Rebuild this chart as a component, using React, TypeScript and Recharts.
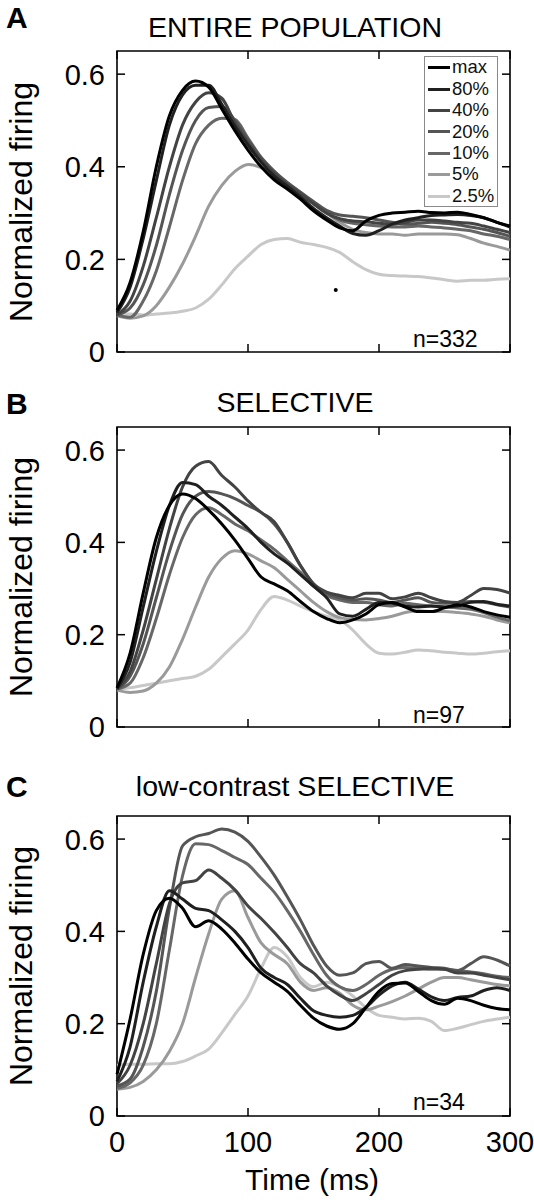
import React from "react"
import { LineChart, Line, XAxis, YAxis, ReferenceArea, ReferenceDot, Legend } from "recharts"

// time axis (ms) and contrast levels
const TIME_MS = [0, 10, 20, 30, 40, 50, 60, 70, 80, 90, 100, 110, 120, 130, 140, 150, 160, 170, 180, 190, 200, 210, 220, 230, 240, 250, 260, 270, 280, 290, 300]
const LEVELS = ["max", "80%", "40%", "20%", "10%", "5%", "2.5%"]
const LEVEL_COLORS = ["#000000", "#202020", "#434343", "#555555", "#676767", "#9a9a9a", "#c8c8c8"]
const X_TICKS = [0, 100, 200, 300]
const Y_TICKS = [0, 0.2, 0.4, 0.6]

// A: entire population
const A_MAX = [0.09, 0.15, 0.26, 0.4, 0.51, 0.565, 0.585, 0.572, 0.525, 0.478, 0.436, 0.4, 0.372, 0.352, 0.33, 0.305, 0.285, 0.268, 0.262, 0.283, 0.295, 0.3, 0.302, 0.304, 0.301, 0.3, 0.302, 0.297, 0.29, 0.28, 0.272]
const A_80 = [0.085, 0.14, 0.245, 0.37, 0.49, 0.555, 0.576, 0.576, 0.535, 0.488, 0.447, 0.41, 0.38, 0.358, 0.335, 0.31, 0.29, 0.272, 0.256, 0.252, 0.262, 0.276, 0.285, 0.29, 0.295, 0.296, 0.297, 0.295, 0.29, 0.28, 0.27]
const A_40 = [0.08, 0.11, 0.185, 0.29, 0.4, 0.49, 0.54, 0.56, 0.548, 0.495, 0.452, 0.415, 0.386, 0.362, 0.342, 0.32, 0.3, 0.288, 0.283, 0.281, 0.278, 0.276, 0.28, 0.285, 0.285, 0.283, 0.28, 0.278, 0.272, 0.265, 0.258]
const A_20 = [0.08, 0.095, 0.145, 0.23, 0.34, 0.435, 0.5, 0.528, 0.53, 0.5, 0.458, 0.42, 0.39, 0.366, 0.345, 0.325, 0.306, 0.296, 0.293, 0.29, 0.285, 0.28, 0.276, 0.278, 0.28, 0.278, 0.275, 0.27, 0.265, 0.258, 0.25]
const A_10 = [0.08, 0.075, 0.11, 0.175, 0.27, 0.37, 0.45, 0.49, 0.505, 0.502, 0.462, 0.42, 0.39, 0.365, 0.345, 0.322, 0.3, 0.285, 0.278, 0.275, 0.272, 0.27, 0.27, 0.272, 0.27, 0.268, 0.265, 0.262, 0.255, 0.25, 0.243]
const A_5 = [0.078, 0.073, 0.078, 0.1, 0.14, 0.19, 0.25, 0.315, 0.36, 0.39, 0.405, 0.398, 0.38, 0.36, 0.34, 0.32, 0.3, 0.28, 0.265, 0.258, 0.255, 0.255, 0.252, 0.255, 0.255, 0.255, 0.253, 0.245, 0.235, 0.228, 0.22]
const A_2_5 = [0.082, 0.082, 0.08, 0.082, 0.084, 0.088, 0.095, 0.114, 0.145, 0.18, 0.207, 0.232, 0.243, 0.245, 0.237, 0.232, 0.226, 0.215, 0.195, 0.178, 0.168, 0.165, 0.164, 0.163, 0.16, 0.156, 0.153, 0.155, 0.155, 0.157, 0.158]
const A_DOT = { t: 167, v: 0.134 }

// B: selective
const B_MAX = [0.085, 0.16, 0.29, 0.41, 0.48, 0.505, 0.495, 0.47, 0.44, 0.405, 0.365, 0.325, 0.31, 0.295, 0.272, 0.25, 0.235, 0.226, 0.232, 0.245, 0.265, 0.27, 0.26, 0.25, 0.25, 0.258, 0.265, 0.26, 0.25, 0.243, 0.238]
const B_80 = [0.083, 0.14, 0.26, 0.38, 0.48, 0.53, 0.525, 0.5, 0.48, 0.455, 0.43, 0.4, 0.375, 0.355, 0.33, 0.305, 0.28, 0.245, 0.24, 0.255, 0.27, 0.268, 0.262, 0.26, 0.262, 0.26, 0.262, 0.27, 0.272, 0.266, 0.262]
const B_40 = [0.083, 0.12, 0.21, 0.32, 0.43, 0.52, 0.565, 0.575, 0.545, 0.52, 0.49, 0.465, 0.445, 0.4, 0.35, 0.31, 0.292, 0.285, 0.28, 0.29, 0.29, 0.278, 0.282, 0.29, 0.28, 0.272, 0.27, 0.285, 0.3, 0.298, 0.29]
const B_20 = [0.082, 0.11, 0.18, 0.28, 0.38, 0.46, 0.5, 0.51, 0.505, 0.495, 0.48, 0.465, 0.44, 0.4, 0.35, 0.31, 0.29, 0.28, 0.275, 0.278, 0.275, 0.27, 0.275, 0.28, 0.27, 0.268, 0.27, 0.272, 0.27, 0.265, 0.26]
const B_10 = [0.082, 0.095, 0.15, 0.235, 0.33, 0.41, 0.46, 0.475, 0.46, 0.44, 0.425, 0.405, 0.385, 0.36, 0.335, 0.305, 0.285, 0.275, 0.27, 0.27, 0.265, 0.262, 0.268, 0.265, 0.262, 0.26, 0.258, 0.255, 0.248, 0.238, 0.23]
const B_5 = [0.08, 0.075, 0.078, 0.095, 0.13, 0.19, 0.26, 0.325, 0.365, 0.382, 0.375, 0.36, 0.345, 0.32, 0.295, 0.27, 0.25, 0.237, 0.233, 0.232, 0.235, 0.24, 0.248, 0.252, 0.25, 0.25, 0.248, 0.245, 0.24, 0.232, 0.226]
const B_2_5 = [0.082, 0.085, 0.09, 0.095, 0.1, 0.105, 0.11, 0.125, 0.152, 0.18, 0.21, 0.255, 0.283, 0.275, 0.262, 0.25, 0.24, 0.232, 0.21, 0.18, 0.16, 0.158, 0.162, 0.167, 0.165, 0.162, 0.16, 0.158, 0.16, 0.163, 0.165]

// C: low-contrast selective
const C_MAX = [0.09, 0.21, 0.35, 0.445, 0.472, 0.45, 0.41, 0.423, 0.405, 0.375, 0.34, 0.31, 0.29, 0.27, 0.24, 0.212, 0.195, 0.188, 0.2, 0.235, 0.27, 0.287, 0.288, 0.27, 0.25, 0.242, 0.255, 0.25, 0.24, 0.233, 0.23]
const C_80 = [0.075, 0.15, 0.29, 0.41, 0.488, 0.47, 0.45, 0.445, 0.425, 0.4, 0.365, 0.32, 0.3, 0.285, 0.255, 0.228, 0.218, 0.214, 0.218, 0.235, 0.262, 0.282, 0.29, 0.275, 0.258, 0.25, 0.257, 0.26, 0.272, 0.278, 0.272]
const C_40 = [0.07, 0.11, 0.2, 0.33, 0.46, 0.505, 0.51, 0.533, 0.515, 0.49, 0.455, 0.428, 0.398, 0.365, 0.33, 0.31, 0.282, 0.262, 0.25, 0.265, 0.285, 0.305, 0.315, 0.318, 0.32, 0.318, 0.31, 0.31, 0.305, 0.3, 0.295]
const C_20 = [0.065, 0.08, 0.15, 0.27, 0.45, 0.585, 0.605, 0.612, 0.622, 0.615, 0.595, 0.561, 0.522, 0.475, 0.425, 0.37, 0.325, 0.305, 0.31, 0.33, 0.335, 0.32, 0.328, 0.325, 0.322, 0.32, 0.315, 0.33, 0.345, 0.338, 0.325]
const C_10 = [0.06, 0.072, 0.11, 0.2, 0.36, 0.52, 0.59, 0.588, 0.575, 0.56, 0.545, 0.515, 0.485, 0.445, 0.4, 0.35, 0.305, 0.28, 0.272, 0.285, 0.305, 0.318, 0.322, 0.32, 0.318, 0.318, 0.315, 0.312, 0.308, 0.303, 0.3]
const C_5 = [0.058, 0.062, 0.075, 0.1, 0.14, 0.2, 0.3, 0.395, 0.47, 0.488, 0.43, 0.375, 0.35, 0.33, 0.29, 0.272, 0.278, 0.266, 0.24, 0.23, 0.238, 0.248, 0.26, 0.275, 0.29, 0.3, 0.3, 0.295, 0.29, 0.285, 0.282]
const C_2_5 = [0.11, 0.112, 0.112, 0.113, 0.113, 0.118, 0.13, 0.145, 0.18, 0.22, 0.26, 0.32, 0.365, 0.345, 0.3, 0.28, 0.29, 0.28, 0.26, 0.235, 0.218, 0.214, 0.21, 0.212, 0.205, 0.185, 0.19, 0.198, 0.205, 0.21, 0.214]

const FONT = '"Liberation Sans", Arial, Helvetica, sans-serif'
const CHART_W = 534
const Y_AXIS_W = 100
const PLOT_LEFT = 117
const PLOT_RIGHT = 510
const TICK_LEN = 8

type Row = Record<string, number>

function toRows(series: number[][]): Row[] {
  return TIME_MS.map((t, i) => {
    const row: Row = { t }
    LEVELS.forEach((lvl, k) => {
      row[lvl] = series[k][i]
    })
    return row
  })
}

const renderLegend = (props: any) => {
  const items = [...(props.payload || [])].sort((a: any, b: any) => LEVELS.indexOf(a.value) - LEVELS.indexOf(b.value))
  return (
    <div style={{ border: "1px solid #8a8a8a", background: "#fff", width: 74, height: 151, boxSizing: "border-box", padding: "0 0 0 3px" }}>
      {items.map((it: any) => (
        <div key={it.value} style={{ display: "flex", alignItems: "center", height: 21.4 }}>
          <span style={{ display: "inline-block", width: 22, height: 3, background: it.color, marginRight: 2 }} />
          <span style={{ fontSize: 18.5, fontFamily: FONT, color: "#111", lineHeight: 1 }}>{it.value}</span>
        </div>
      ))}
    </div>
  )
}

type PanelProps = {
  rows: Row[]
  top: number
  height: number
  marginTop: number
  xAxisHeight: number
  showXLabels: boolean
  withLegend?: boolean
  dot?: { t: number; v: number }
}

function Panel({ rows, top, height, marginTop, xAxisHeight, showXLabels, withLegend, dot }: PanelProps) {
  const plotTop = marginTop
  const plotBottom = height - xAxisHeight

  const xTick = (props: any) => {
    const { x, payload } = props
    return (
      <g>
        <line x1={x} x2={x} y1={plotBottom} y2={plotBottom - TICK_LEN} stroke="#000" strokeWidth={1.5} />
        <line x1={x} x2={x} y1={plotTop} y2={plotTop + TICK_LEN} stroke="#000" strokeWidth={1.5} />
        {showXLabels && (
          <text x={x} y={plotBottom + 26} dy="0.36em" textAnchor="middle" fontSize={29} fontFamily={FONT} fill="#000">
            {payload.value}
          </text>
        )}
      </g>
    )
  }

  const yTick = (props: any) => {
    const { y, payload } = props
    return (
      <g>
        <line x1={PLOT_LEFT} x2={PLOT_LEFT + TICK_LEN} y1={y} y2={y} stroke="#000" strokeWidth={1.5} />
        <line x1={PLOT_RIGHT - TICK_LEN} x2={PLOT_RIGHT} y1={y} y2={y} stroke="#000" strokeWidth={1.5} />
        <text x={PLOT_LEFT - 12} y={y} dy="0.36em" textAnchor="end" fontSize={29} fontFamily={FONT} fill="#000">
          {String(payload.value)}
        </text>
      </g>
    )
  }

  const drawOrder = LEVELS.map((lvl, k) => ({ lvl, color: LEVEL_COLORS[k] })).reverse()

  return (
    <div style={{ position: "absolute", left: 0, top }}>
      <LineChart
        width={CHART_W}
        height={height}
        data={rows}
        margin={{ top: marginTop, right: CHART_W - PLOT_RIGHT, bottom: 0, left: PLOT_LEFT - Y_AXIS_W }}
      >
        <XAxis dataKey="t" type="number" domain={[0, 300]} ticks={X_TICKS} interval={0} height={xAxisHeight} axisLine={false} tickLine={false} tickSize={0} tick={xTick} />
        <YAxis type="number" domain={[0, 0.65]} ticks={Y_TICKS} interval={0} width={Y_AXIS_W} axisLine={false} tickLine={false} tickSize={0} tick={yTick} />
        <ReferenceArea x1={0} x2={300} y1={0} y2={0.65} fill="none" fillOpacity={0} stroke="#000" strokeWidth={1.6} ifOverflow="visible" />
        {drawOrder.map(({ lvl, color }) => (
          <Line key={lvl} type="monotone" dataKey={lvl} name={lvl} stroke={color} strokeWidth={3} dot={false} activeDot={false} isAnimationActive={false} />
        ))}
        {dot && <ReferenceDot x={dot.t} y={dot.v} r={2} fill="#000" stroke="none" />}
        {withLegend && (
          <Legend
            layout="vertical"
            align="center"
            verticalAlign="middle"
            content={renderLegend}
            wrapperStyle={{ left: 424, top: 56, width: 74, height: 151 }}
          />
        )}
      </LineChart>
    </div>
  )
}

const textBase: React.CSSProperties = { position: "absolute", fontFamily: FONT, color: "#000", lineHeight: 1, whiteSpace: "nowrap" }

function Title({ text, cy }: { text: string; cy: number }) {
  return <div style={{ ...textBase, fontSize: 28.5, left: 295, top: cy - 14, transform: "translateX(-50%)" }}>{text}</div>
}

function Letter({ text, cy }: { text: string; cy: number }) {
  return <div style={{ ...textBase, fontSize: 30, fontWeight: "bold", left: 6, top: cy - 14.7 }}>{text}</div>
}

function YLabel({ cy }: { cy: number }) {
  return (
    <div style={{ ...textBase, fontSize: 32, left: 21, top: cy, transform: "translate(-50%, -50%) rotate(-90deg)" }}>
      Normalized firing
    </div>
  )
}

function Count({ text, baseline }: { text: string; baseline: number }) {
  return <div style={{ ...textBase, fontSize: 23, left: 413, top: baseline - 19.5 }}>{text}</div>
}

export default function App() {
  const rowsA = toRows([A_MAX, A_80, A_40, A_20, A_10, A_5, A_2_5])
  const rowsB = toRows([B_MAX, B_80, B_40, B_20, B_10, B_5, B_2_5])
  const rowsC = toRows([C_MAX, C_80, C_40, C_20, C_10, C_5, C_2_5])

  return (
    <div style={{ position: "absolute", left: 0, top: 0, width: 534, height: 1200, background: "#fff", overflow: "hidden" }}>
      <Panel rows={rowsA} top={0} height={380} marginTop={51} xAxisHeight={28} showXLabels={false} withLegend dot={A_DOT} />
      <Panel rows={rowsB} top={380} height={375} marginTop={47} xAxisHeight={28} showXLabels={false} />
      <Panel rows={rowsC} top={770} height={430} marginTop={46} xAxisHeight={84} showXLabels />

      <Letter text="A" cy={18} />
      <Letter text="B" cy={404} />
      <Letter text="C" cy={787} />
      <Title text="ENTIRE POPULATION" cy={27} />
      <Title text="SELECTIVE" cy={402} />
      <Title text="low-contrast SELECTIVE" cy={786} />
      <YLabel cy={202} />
      <YLabel cy={577} />
      <YLabel cy={966} />
      <Count text="n=332" baseline={347} />
      <Count text="n=97" baseline={723} />
      <Count text="n=34" baseline={1110} />
      <div style={{ ...textBase, fontSize: 30, left: 312, top: 1180 - 15, transform: "translateX(-50%)" }}>Time (ms)</div>
    </div>
  )
}
